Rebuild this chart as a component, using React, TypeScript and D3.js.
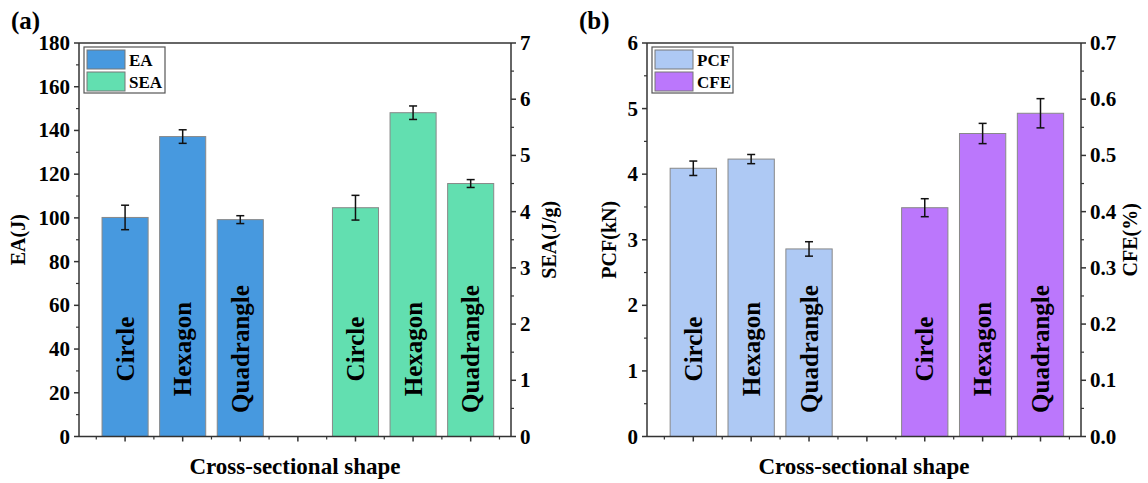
import React from "react";
import * as d3 from "d3";

const shapes = ["Circle", "Hexagon", "Quadrangle"];
const eaValues = [100.2, 137.2, 99.2];
const eaErrors = [5.6, 3.1, 1.8];
const seaValues = [4.07, 5.76, 4.5];
const seaErrors = [0.22, 0.12, 0.07];
const pcfValues = [4.09, 4.23, 2.86];
const pcfErrors = [0.11, 0.07, 0.11];
const cfeValues = [0.407, 0.539, 0.575];
const cfeErrors = [0.016, 0.018, 0.026];
const leftTicksA = [0, 20, 40, 60, 80, 100, 120, 140, 160, 180];
const rightTicksA = [0, 1, 2, 3, 4, 5, 6, 7];
const leftTicksB = [0, 1, 2, 3, 4, 5, 6];
const rightTicksB = [0, 0.1, 0.2, 0.3, 0.4, 0.5, 0.6, 0.7];

const FONT = "Liberation Serif, Tinos, Times New Roman, DejaVu Serif, serif";
const T = { fontFamily: FONT, fontWeight: 700 } as React.CSSProperties;

type Series = { name: string; color: string; values: number[]; errors: number[] };
type PanelProps = {
  x0: number;
  x1: number;
  tag: string;
  leftMax: number;
  rightMax: number;
  leftTicks: number[];
  rightTicks: number[];
  rightFmt: (v: number) => string;
  leftTitle: string;
  rightTitle: string;
  leftTitleX: number;
  rightTitleX: number;
  s1: Series;
  s2: Series;
};

function Panel(p: PanelProps) {
  const top = 43;
  const bottom = 436.5;
  const x = d3.scaleLinear().domain([0.2, 7.7]).range([p.x0, p.x1]);
  const yL = d3.scaleLinear().domain([0, p.leftMax]).range([bottom, top]);
  const yR = d3.scaleLinear().domain([0, p.rightMax]).range([bottom, top]);
  const step = x(2) - x(1);
  const bw = step * 0.8;
  const axisColor = "#333";
  const bars: any[] = [];
  const addBars = (s: Series, offset: number, y: d3.ScaleLinear<number, number>, key: string) => {
    s.values.forEach((v, i) => {
      const cx = x(offset + i);
      bars.push(
        <g key={key + i}>
          <rect x={cx - bw / 2} y={y(v)} width={bw} height={bottom - y(v)} fill={s.color} stroke="#888" strokeWidth={1} />
          <line x1={cx} x2={cx} y1={y(v + s.errors[i])} y2={y(v - s.errors[i])} stroke="#111" strokeWidth={1.5} />
          <line x1={cx - 4} x2={cx + 4} y1={y(v + s.errors[i])} y2={y(v + s.errors[i])} stroke="#111" strokeWidth={1.5} />
          <line x1={cx - 4} x2={cx + 4} y1={y(v - s.errors[i])} y2={y(v - s.errors[i])} stroke="#111" strokeWidth={1.5} />
          <text
            transform={`translate(${cx},${349}) rotate(-90)`}
            textAnchor="middle"
            dominantBaseline="central"
            style={{ ...T, fontSize: 25 }}
            fill="#000"
          >
            {shapes[i]}
          </text>
        </g>
      );
    });
  };
  addBars(p.s1, 1, yL, "a");
  addBars(p.s2, 5, yR, "b");

  const leftMinor = d3.range(0, p.leftTicks.length - 1).map((i) => (p.leftTicks[i] + p.leftTicks[i + 1]) / 2);
  const rightMinor = d3.range(0, p.rightTicks.length - 1).map((i) => (p.rightTicks[i] + p.rightTicks[i + 1]) / 2);
  const xMajor = [1, 2, 3, 4, 5, 6, 7];
  const xMinor = [0.5, 1.5, 2.5, 3.5, 4.5, 5.5, 6.5, 7.5];
  const midX = (p.x0 + p.x1) / 2;
  const midY = (top + bottom) / 2;

  return (
    <g>
      <text x={p.x0 - 68} y={29} style={{ ...T, fontSize: 25 }}>{p.tag}</text>
      {bars}
      <line x1={p.x0} x2={p.x1} y1={top} y2={top} stroke={axisColor} strokeWidth={1.5} />
      <line x1={p.x0} x2={p.x1} y1={bottom} y2={bottom} stroke={axisColor} strokeWidth={1.5} />
      <line x1={p.x0} x2={p.x0} y1={top} y2={bottom} stroke={axisColor} strokeWidth={1.5} />
      <line x1={p.x1} x2={p.x1} y1={top} y2={bottom} stroke={axisColor} strokeWidth={1.5} />
      {p.leftTicks.map((t) => (
        <g key={"lt" + t}>
          <line x1={p.x0 - 5} x2={p.x0} y1={yL(t)} y2={yL(t)} stroke={axisColor} strokeWidth={1.5} />
          <text x={p.x0 - 9} y={yL(t)} textAnchor="end" dominantBaseline="central" style={{ ...T, fontSize: 21 }}>{t}</text>
        </g>
      ))}
      {leftMinor.map((t) => (
        <line key={"lm" + t} x1={p.x0 - 3} x2={p.x0} y1={yL(t)} y2={yL(t)} stroke={axisColor} strokeWidth={1.2} />
      ))}
      {p.rightTicks.map((t) => (
        <g key={"rt" + t}>
          <line x1={p.x1} x2={p.x1 + 5} y1={yR(t)} y2={yR(t)} stroke={axisColor} strokeWidth={1.5} />
          <text x={p.x1 + 9} y={yR(t)} textAnchor="start" dominantBaseline="central" style={{ ...T, fontSize: 21 }}>{p.rightFmt(t)}</text>
        </g>
      ))}
      {rightMinor.map((t) => (
        <line key={"rm" + t} x1={p.x1} x2={p.x1 + 3} y1={yR(t)} y2={yR(t)} stroke={axisColor} strokeWidth={1.2} />
      ))}
      {xMajor.map((t) => (
        <line key={"xt" + t} x1={x(t)} x2={x(t)} y1={bottom} y2={bottom + 5} stroke={axisColor} strokeWidth={1.5} />
      ))}
      {xMinor.map((t) => (
        <line key={"xm" + t} x1={x(t)} x2={x(t)} y1={bottom} y2={bottom + 3} stroke={axisColor} strokeWidth={1.2} />
      ))}
      <text x={midX} y={474} textAnchor="middle" style={{ ...T, fontSize: 23 }}>Cross-sectional shape</text>
      <text transform={`translate(${p.leftTitleX},${midY}) rotate(-90)`} textAnchor="middle" dominantBaseline="central" style={{ ...T, fontSize: 20 }}>{p.leftTitle}</text>
      <text transform={`translate(${p.rightTitleX},${midY}) rotate(-90)`} textAnchor="middle" dominantBaseline="central" style={{ ...T, fontSize: 20 }}>{p.rightTitle}</text>
      <rect x={p.x0 + 5} y={47} width={81} height={46} fill="#fff" stroke="#555" strokeWidth={1.2} />
      <rect x={p.x0 + 8} y={50} width={38} height={19} fill={p.s1.color} stroke="#777" strokeWidth={1} />
      <rect x={p.x0 + 8} y={72} width={38} height={19} fill={p.s2.color} stroke="#777" strokeWidth={1} />
      <text x={p.x0 + 50} y={60} dominantBaseline="central" style={{ ...T, fontSize: 17 }}>{p.s1.name}</text>
      <text x={p.x0 + 50} y={82} dominantBaseline="central" style={{ ...T, fontSize: 17 }}>{p.s2.name}</text>
    </g>
  );
}

export default function App() {
  return (
    <svg width={1148} height={483} style={{ position: "absolute", left: 0, top: 0, background: "#fff" }}>
      <rect width={1148} height={483} fill="#fff" />
      <Panel
        x0={79}
        x1={511}
        tag="(a)"
        leftMax={180}
        rightMax={7}
        leftTicks={leftTicksA}
        rightTicks={rightTicksA}
        rightFmt={(v) => String(v)}
        leftTitle="EA(J)"
        rightTitle="SEA(J/g)"
        leftTitleX={18}
        rightTitleX={549}
        s1={{ name: "EA", color: "#4799DF", values: eaValues, errors: eaErrors }}
        s2={{ name: "SEA", color: "#62DFB0", values: seaValues, errors: seaErrors }}
      />
      <Panel
        x0={647}
        x1={1081}
        tag="(b)"
        leftMax={6}
        rightMax={0.7}
        leftTicks={leftTicksB}
        rightTicks={rightTicksB}
        rightFmt={(v) => v.toFixed(1)}
        leftTitle="PCF(kN)"
        rightTitle="CFE(%)"
        leftTitleX={609}
        rightTitleX={1130}
        s1={{ name: "PCF", color: "#AEC9F4", values: pcfValues, errors: pcfErrors }}
        s2={{ name: "CFE", color: "#BB77FC", values: cfeValues, errors: cfeErrors }}
      />
    </svg>
  );
}
